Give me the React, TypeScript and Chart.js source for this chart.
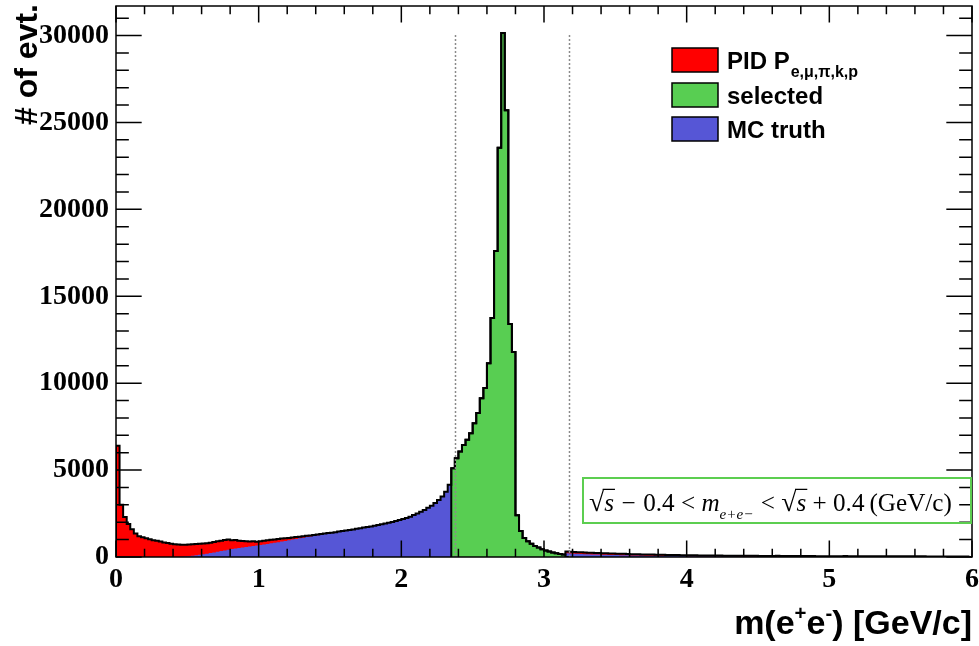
import React, { useEffect, useRef } from 'react';
import { Chart, registerables } from 'chart.js';

Chart.register(...registerables);

// ---------- data ----------
const BIN_WIDTH = 0.025; // GeV/c per bin, 240 bins on [0, 6]
const X_MIN = 0;
const X_MAX = 6;
const Y_MAX = 31700;
const X_TICKS = [0, 1, 2, 3, 4, 5, 6];
const Y_TICKS = [0, 5000, 10000, 15000, 20000, 25000, 30000];
const WINDOW_LOW = 2.375;
const WINDOW_HIGH = 3.175;

// PID P_{e,mu,pi,k,p}: all events passing PID (red, black outline)
const pidCounts = [
  4300, 6400, 3000, 2300, 1900, 1600, 1350, 1200, 1130, 1080,
  1020, 970, 930, 890, 840, 800, 760, 740, 720, 710,
  700, 720, 730, 750, 760, 770, 790, 820, 860, 900,
  940, 980, 1000, 960, 980, 940, 920, 900, 890, 900,
  880, 910, 940, 960, 990, 1010, 1030, 1060, 1080, 1100,
  1120, 1150, 1170, 1190, 1220, 1240, 1270, 1290, 1320, 1350,
  1380, 1400, 1430, 1460, 1490, 1520, 1550, 1580, 1620, 1650,
  1690, 1720, 1760, 1800, 1840, 1880, 1930, 1970, 2020, 2070,
  2130, 2190, 2250, 2320, 2420, 2500, 2600, 2700, 2830, 2950,
  3100, 3280, 3480, 3760, 4150,
  5100, 5680, 6070, 6450, 6740, 7120, 7700, 8280, 9140, 9720,
  11150, 13750, 17600, 23550, 30150, 25700, 13400, 11800, 2400, 1500,
  1100, 900, 760, 640, 540, 450, 370, 310, 260, 210,
  175, 150,
  310, 295, 285, 275, 270, 260, 250, 245, 235, 225,
  220, 210, 205, 200, 190, 185, 180, 170, 165, 160,
  155, 150, 145, 140, 138, 132, 128, 124, 120, 116,
  112, 110, 106, 102, 100, 98, 95, 92, 90, 88,
  86, 84, 82, 80, 78, 77, 75, 74, 72, 70,
  69, 68, 66, 65, 64, 63, 62, 60, 60, 66,
  58, 57, 56, 55, 55, 54, 53, 58, 52, 51,
  50, 50, 49, 48, 48, 47, 47, 46, 52, 45,
  44, 44, 43, 43, 42, 48, 41, 41, 40, 40,
  40, 39, 39, 38, 38, 38, 42, 37, 36, 36,
  36, 35, 35, 35, 34, 34, 34, 33, 33, 33,
  32, 32, 32,
];

// MC truth (blue)
const mcTruthCounts = [
  0, 0, 0, 0, 0, 0, 0, 0, 0, 0,
  0, 0, 0, 0, 0, 0, 0, 0, 0, 15,
  30, 50, 75, 100, 130, 160, 190, 225, 260, 300,
  340, 380, 420, 455, 490, 520, 550, 580, 610, 635,
  660, 690, 720, 750, 785, 820, 855, 890, 925, 965,
  1000, 1040, 1075, 1110, 1150, 1185, 1220, 1250, 1285, 1320,
  1355, 1380, 1415, 1445, 1475, 1505, 1535, 1565, 1605, 1635,
  1675, 1705, 1745, 1785, 1825, 1865, 1915, 1955, 2005, 2055,
  2115, 2175, 2235, 2305, 2405, 2485, 2585, 2685, 2815, 2935,
  3085, 3265, 3465, 3745, 4150,
  0, 0, 0, 0, 0, 0, 0, 0, 0, 0,
  0, 0, 0, 0, 0, 0, 0, 0, 0, 0,
  0, 0, 0, 0, 0, 0, 0, 0, 0, 0,
  0, 0,
  210, 200, 190, 180, 175, 165, 160, 150, 145, 140,
  130, 125, 120, 115, 110, 105, 100, 95, 90, 88,
  85, 82, 78, 75, 72, 70, 67, 64, 62, 60,
  58, 56, 54, 52, 50, 49, 48, 46, 45, 44,
  43, 42, 41, 40, 39, 38, 37, 36, 35, 35,
  34, 33, 33, 32, 31, 31, 30, 30, 29, 29,
  28, 28, 27, 27, 26, 26, 26, 25, 25, 25,
  24, 24, 24, 23, 23, 23, 22, 22, 22, 22,
  21, 21, 21, 21, 20, 20, 20, 20, 20, 19,
  19, 19, 19, 18, 18, 18, 18, 18, 17, 17,
  17, 17, 17, 16, 16, 16, 16, 16, 16, 15,
  15, 15, 15,
];

// selected (green), starting at bin index 94
const SELECTED_FIRST_BIN = 94;
const selectedCounts = [
  300,
  5100, 5680, 6070, 6450, 6740, 7120, 7700, 8280, 9140, 9720,
  11150, 13750, 17600, 23550, 30150, 25700, 13400, 11800, 2400, 1500,
  1100, 900, 760, 640, 540, 450, 370, 310, 260, 210,
  175, 150,
];

const LEGEND_ITEMS = [
  { label: 'PID P', sub: 'e,\u03bc,\u03c0,k,p', color: 'rgb(255,0,0)' },
  { label: 'selected', sub: '', color: 'rgb(88,206,82)' },
  { label: 'MC truth', sub: '', color: 'rgb(86,86,214)' },
];

const RED = 'rgb(255,0,0)';
const GREEN = 'rgb(88,206,82)';
const BLUE = 'rgb(86,86,214)';
const BOX_GREEN = 'rgb(92,206,80)';

const SERIF = '"Liberation Serif", "Times New Roman", serif';
const SANS = '"Liberation Sans", Arial, sans-serif';

function toSteps(values: number[], firstBin: number) {
  const pts: { x: number; y: number }[] = [];
  pts.push({ x: firstBin * BIN_WIDTH, y: 0 });
  values.forEach((v, k) => pts.push({ x: (firstBin + k) * BIN_WIDTH, y: v }));
  pts.push({ x: (firstBin + values.length) * BIN_WIDTH, y: 0 });
  return pts;
}

type Piece = { t?: string; gap?: number; kind?: 'n' | 'i' | 'sub' | 'rad'; bar?: boolean };

const FORMULA: Piece[] = [
  { t: '\u221a', kind: 'rad' },
  { t: 's', kind: 'i', bar: true },
  { gap: 0.3 },
  { t: '\u2212', kind: 'n' },
  { gap: 0.3 },
  { t: '0.4', kind: 'n' },
  { gap: 0.25 },
  { t: '<', kind: 'n' },
  { gap: 0.25 },
  { t: 'm', kind: 'i' },
  { t: 'e+e\u2212', kind: 'sub' },
  { gap: 0.3 },
  { t: '<', kind: 'n' },
  { gap: 0.25 },
  { t: '\u221a', kind: 'rad' },
  { t: 's', kind: 'i', bar: true },
  { gap: 0.25 },
  { t: '+', kind: 'n' },
  { gap: 0.25 },
  { t: '0.4', kind: 'n' },
  { gap: 0.2 },
  { t: '(GeV/c)', kind: 'n' },
];

function fontFor(kind: string | undefined, s: number) {
  if (kind === 'i') return `italic ${s}px ${SERIF}`;
  if (kind === 'sub') return `italic ${s * 0.6}px ${SERIF}`;
  if (kind === 'rad') return `${s * 1.1}px ${SERIF}`;
  return `${s}px ${SERIF}`;
}

function drawFormula(ctx: CanvasRenderingContext2D, left: number, right: number, baseline: number) {
  const measure = (s: number) => {
    let w = 0;
    for (const p of FORMULA) {
      if (p.gap !== undefined) { w += p.gap * s; continue; }
      ctx.font = fontFor(p.kind, s);
      w += ctx.measureText(p.t as string).width;
    }
    return w;
  };
  const base = 26;
  const s = base * (right - left) / measure(base);
  let x = left;
  ctx.fillStyle = '#000';
  ctx.textAlign = 'left';
  ctx.textBaseline = 'alphabetic';
  for (const p of FORMULA) {
    if (p.gap !== undefined) { x += p.gap * s; continue; }
    ctx.font = fontFor(p.kind, s);
    const w = ctx.measureText(p.t as string).width;
    const dy = p.kind === 'sub' ? s * 0.3 : 0;
    ctx.fillText(p.t as string, x, baseline + dy);
    if (p.bar) {
      ctx.beginPath();
      ctx.lineWidth = Math.max(1, s * 0.05);
      ctx.strokeStyle = '#000';
      const yb = baseline - s * 0.86;
      ctx.moveTo(x - 1.5, yb);
      ctx.lineTo(x + w + 1, yb);
      ctx.stroke();
    }
    x += w;
  }
}

const decorPlugin = {
  id: 'rootDecor',
  afterDraw(chart: any) {
    const { ctx, chartArea: a, scales } = chart;
    const xs = scales.x;
    const ys = scales.y;
    ctx.save();

    // selection window lines
    const topWin = ys.getPixelForValue(Math.max(...selectedCounts));
    ctx.strokeStyle = '#8a8a8a';
    ctx.lineWidth = 1.5;
    ctx.setLineDash([2, 2]);
    for (const v of [WINDOW_LOW, WINDOW_HIGH]) {
      const px = Math.round(xs.getPixelForValue(v)) + 0.5;
      ctx.beginPath();
      ctx.moveTo(px, a.bottom);
      ctx.lineTo(px, topWin);
      ctx.stroke();
    }
    ctx.setLineDash([]);

    // frame
    ctx.strokeStyle = '#000';
    ctx.lineWidth = 1.5;
    ctx.strokeRect(a.left, a.top, a.right - a.left, a.bottom - a.top);

    // ticks (inside, all four sides)
    const xMajor = 0.03 * (a.bottom - a.top);
    const yMajor = 0.03 * (a.right - a.left);
    ctx.beginPath();
    for (let k = 0; k <= 30; k++) {
      const px = xs.getPixelForValue(k * 0.2);
      const len = k % 5 === 0 ? xMajor : xMajor / 2;
      ctx.moveTo(px, a.bottom);
      ctx.lineTo(px, a.bottom - len);
      ctx.moveTo(px, a.top);
      ctx.lineTo(px, a.top + len);
    }
    for (let k = 0; k * 1000 <= Y_MAX; k++) {
      const py = ys.getPixelForValue(k * 1000);
      const len = k % 5 === 0 ? yMajor : yMajor / 2;
      ctx.moveTo(a.left, py);
      ctx.lineTo(a.left + len, py);
      ctx.moveTo(a.right, py);
      ctx.lineTo(a.right - len, py);
    }
    ctx.stroke();

    // legend
    const boxX = 672;
    const rowY = [60, 95, 129];
    LEGEND_ITEMS.forEach((it, i) => {
      const cy = rowY[i];
      ctx.fillStyle = it.color;
      ctx.fillRect(boxX, cy - 12, 46, 24);
      ctx.strokeStyle = '#000';
      ctx.lineWidth = 1.5;
      ctx.strokeRect(boxX, cy - 12, 46, 24);
      ctx.fillStyle = '#000';
      ctx.font = `bold 24px ${SANS}`;
      ctx.textAlign = 'left';
      ctx.textBaseline = 'alphabetic';
      ctx.fillText(it.label, 727, cy + 8.5);
      if (it.sub) {
        const w = ctx.measureText(it.label).width;
        ctx.font = `bold 16px ${SANS}`;
        ctx.fillText(it.sub, 727 + w + 1, cy + 17);
      }
    });

    // formula box
    ctx.strokeStyle = BOX_GREEN;
    ctx.lineWidth = 2;
    ctx.strokeRect(583, 478, 388, 45);
    drawFormula(ctx, 589, 952, 511);

    // y title
    ctx.save();
    ctx.translate(37, 4);
    ctx.rotate(-Math.PI / 2);
    ctx.font = `bold 32px ${SANS}`;
    ctx.fillStyle = '#000';
    ctx.textAlign = 'right';
    ctx.textBaseline = 'alphabetic';
    ctx.fillText('# of evt.', 0, 0);
    ctx.restore();

    // x title: m(e+e-) [GeV/c], right aligned
    const tsize = 34;
    const parts = [
      { t: 'm(e', sup: false },
      { t: '+', sup: true },
      { t: 'e', sup: false },
      { t: '-', sup: true },
      { t: ') [GeV/c]', sup: false },
    ];
    let tw = 0;
    for (const p of parts) {
      ctx.font = `bold ${p.sup ? tsize * 0.6 : tsize}px ${SANS}`;
      tw += ctx.measureText(p.t).width;
    }
    let tx = 972 - tw;
    const tb = 634;
    ctx.fillStyle = '#000';
    ctx.textAlign = 'left';
    for (const p of parts) {
      ctx.font = `bold ${p.sup ? tsize * 0.6 : tsize}px ${SANS}`;
      ctx.fillText(p.t, tx, p.sup ? tb - tsize * 0.42 : tb);
      tx += ctx.measureText(p.t).width;
    }

    ctx.restore();
  },
};

export default function App() {
  const canvasRef = useRef<HTMLCanvasElement | null>(null);

  useEffect(() => {
    const canvas = canvasRef.current;
    if (!canvas) return;
    const tickFont = { family: SERIF, size: 28, weight: 'bold' as const };
    const chart = new Chart(canvas, {
      type: 'line',
      data: {
        datasets: [
          {
            label: 'PID',
            data: toSteps(pidCounts, 0),
            stepped: 'after',
            fill: 'origin',
            backgroundColor: RED,
            borderColor: '#000',
            borderWidth: 2,
            pointRadius: 0,
            order: 3,
          },
          {
            label: 'MC truth',
            data: toSteps(mcTruthCounts, 0),
            stepped: 'after',
            fill: 'origin',
            backgroundColor: BLUE,
            borderColor: 'rgba(0,0,0,0)',
            borderWidth: 1,
            pointRadius: 0,
            order: 2,
          },
          {
            label: 'selected',
            data: toSteps(selectedCounts, SELECTED_FIRST_BIN),
            stepped: 'after',
            fill: 'origin',
            backgroundColor: GREEN,
            borderColor: '#000',
            borderWidth: 2,
            pointRadius: 0,
            order: 1,
          },
        ],
      },
      options: {
        animation: false,
        responsive: false,
        events: [],
        layout: { padding: { top: 6, right: 7, left: 0, bottom: 0 } },
        plugins: {
          legend: { display: false },
          tooltip: { enabled: false },
          filler: { drawTime: 'beforeDatasetsDraw' },
        } as any,
        scales: {
          x: {
            type: 'linear',
            min: X_MIN,
            max: X_MAX,
            grid: { display: false, drawTicks: false },
            border: { display: false },
            afterBuildTicks: (s: any) => {
              s.ticks = X_TICKS.map((v) => ({ value: v }));
            },
            afterFit: (s: any) => {
              s.height = 89;
              s.paddingLeft = 0;
              s.paddingRight = 0;
            },
            ticks: {
              font: tickFont,
              color: '#000',
              padding: 6,
              maxRotation: 0,
              autoSkip: false,
              callback: (v: any) => String(v),
            },
          },
          y: {
            type: 'linear',
            min: 0,
            max: Y_MAX,
            grid: { display: false, drawTicks: false },
            border: { display: false },
            afterBuildTicks: (s: any) => {
              s.ticks = Y_TICKS.map((v) => ({ value: v }));
            },
            afterFit: (s: any) => {
              s.width = 116;
              s.paddingTop = 0;
              s.paddingBottom = 0;
            },
            ticks: {
              font: tickFont,
              color: '#000',
              padding: 7,
              autoSkip: false,
              callback: (v: any) => String(v),
            },
          },
        },
      } as any,
      plugins: [decorPlugin],
    });
    return () => chart.destroy();
  }, []);

  return (
    <div style={{ position: 'absolute', left: 0, top: 0, width: 979, height: 646, background: '#fff' }}>
      <canvas ref={canvasRef} width={979} height={646} style={{ width: 979, height: 646, display: 'block' }} />
    </div>
  );
}
